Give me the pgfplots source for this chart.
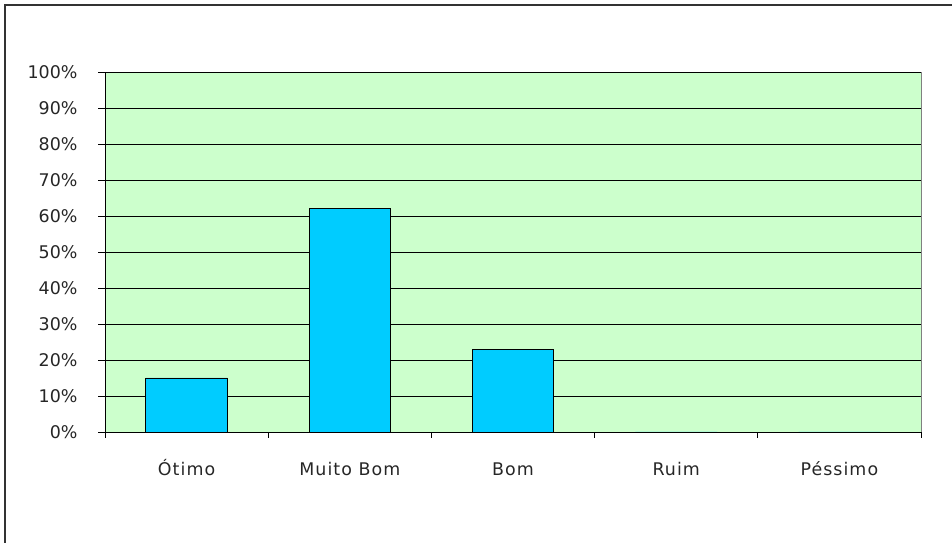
\documentclass[border=0pt]{standalone}
\usepackage{fontspec}
\setmainfont{DejaVu Sans}
\newfontfamily\catfont[LetterSpace=6]{DejaVu Sans}
\usepackage{pgfplots}
\pgfplotsset{compat=1.18}
\definecolor{bgGreen}{RGB}{204,255,204}
\definecolor{barBlue}{RGB}{0,204,255}
\begin{document}
\begin{tikzpicture}
\path[use as bounding box] (0,0) rectangle (952bp,543bp);
% outer chart frame
\draw[line width=1.5bp, black!80] (5bp,0) -- (5bp,538bp) -- (952bp,538bp);
\begin{axis}[
  at={(105bp,111bp)}, anchor=south west,
  scale only axis,
  width=816bp, height=360bp,
  xmin=-0.5, xmax=4.5,
  ymin=0, ymax=100,
  axis x line*=bottom, axis y line*=left,
  axis line style={black, line width=0.8bp},
  axis background/.style={fill=bgGreen},
  ytick={0,10,...,100},
  yticklabels={0\%,10\%,20\%,30\%,40\%,50\%,60\%,70\%,80\%,90\%,100\%},
  ymajorgrids,
  major grid style={black, line width=0.8bp},
  xtick={0,1,2,3,4},
  xticklabels={Ótimo,Muito Bom,Bom,Ruim,Péssimo},
  minor xtick={-0.5,0.5,1.5,2.5,3.5,4.5},
  tick align=outside,
  xtick style={draw=none},
  minor x tick style={draw=black, line width=0.8bp},
  minor tick length=6bp,
  ytick style={black, line width=0.8bp},
  major tick length=7bp,
  tick label style={font=\fontsize{17.5}{20}\selectfont, text=black!85},
  xticklabel style={font=\catfont\fontsize{17.5}{20}\selectfont, anchor=base, yshift=-37bp},
  yticklabel style={xshift=-17bp},
  clip=false,
]
\addplot[ybar, bar width=0.5, fill=barBlue, draw=black, line width=0.8bp]
  coordinates {(0,15) (1,62) (2,23) (3,0) (4,0)};
\draw[gray, line width=0.8bp] (rel axis cs:1,0) -- (rel axis cs:1,1);
\end{axis}
\end{tikzpicture}
\end{document}
